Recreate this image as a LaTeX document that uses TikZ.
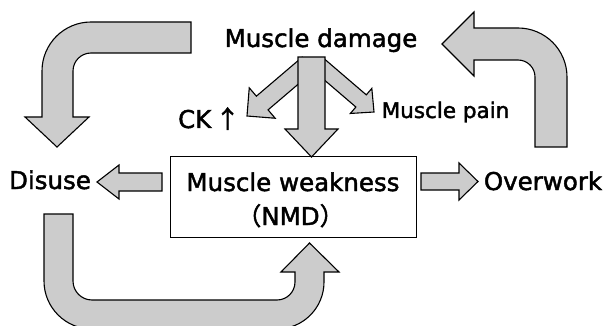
\documentclass[tikz,border=0pt]{standalone}
\usepackage{fontspec}
\setmainfont{DejaVu Sans}[FakeBold=1.8]
\newfontfamily\cjk{Noto Sans CJK JP}[FakeBold=1.8]
\usetikzlibrary{calc}
\tikzset{
  blk/.style={draw=black, line width=1.1pt, fill=black!20, line join=miter},
  lbl/.style={inner sep=0pt, font=\fontsize{24.5}{30}\selectfont},
  smalllbl/.style={inner sep=0pt, font=\fontsize{21.5}{26}\selectfont},
  boxnode/.style={draw=black, line width=1pt, minimum width=246pt, minimum height=80pt, inner sep=0pt}
}
\newcommand{\blockarrow}[5]{%
  \coordinate (tmpb) at ($(#2)!#5!(#1)$);
  \draw[blk] ($(#1)!#3!90:(#2)$) -- ($(tmpb)!#3!90:(#2)$) -- ($(tmpb)!#4!90:(#2)$) -- (#2)
    -- ($(tmpb)!#4!-90:(#2)$) -- ($(tmpb)!#3!-90:(#2)$) -- ($(#1)!#3!-90:(#2)$) -- cycle;}
\begin{document}
\begin{tikzpicture}[x=1pt, y=-1pt]
\useasboundingbox (0,0) rectangle (605,326);
\clip (0,0) rectangle (605,326);
\fill[white] (0,0) rectangle (605,326);

% labels
\node[lbl, anchor=base] (dmg) at (321,47) {Muscle damage};
\node[lbl, anchor=base west] (ck) at (178,128) {CK\hspace{4pt}{\cjk ↑}};
\node[smalllbl, anchor=base] (pain) at (445.5,118) {Muscle pain};
\node[lbl, anchor=base] (disuse) at (50,189) {Disuse};
\node[lbl, anchor=base] (overwork) at (543,190) {Overwork};
\node[boxnode] (weak) at (293,197) {};
\node[lbl, anchor=base] (weak1) at (293,191) {Muscle weakness};
\node[lbl, anchor=base] (weak2) at (290.5,225) {{\cjk （}NMD{\cjk ）}};

% arrow end points
\coordinate (ckA-s) at (308,64);   \coordinate (ckA-e) at (247,116);
\coordinate (pnA-s) at (318,64);   \coordinate (pnA-e) at (374,112);
\coordinate (dnA-s) at (311.5,57); \coordinate (dnA-e) at (311.5,157);
\coordinate (dsA-s) at (162,182);  \coordinate (dsA-e) at (97,182);
\coordinate (owA-s) at (421,181.5);\coordinate (owA-e) at (478,181.5);

% straight block arrows
\blockarrow{ckA-s}{ckA-e}{9pt}{20pt}{20pt}
\blockarrow{pnA-s}{pnA-e}{8pt}{16.5pt}{17pt}
\blockarrow{dnA-s}{dnA-e}{13.5pt}{26.5pt}{28pt}
\blockarrow{dsA-s}{dsA-e}{9pt}{17pt}{22pt}
\blockarrow{owA-s}{owA-e}{8.5pt}{18.5pt}{19pt}

% top-left curved arrow
\draw[blk] (191,22) -- (91,22) arc[start angle=90, end angle=180, radius=49pt]
  -- (42,117) -- (25,117) -- (57,147) -- (89,117) -- (73,117) -- (73,71)
  arc[start angle=180, end angle=90, radius=18pt] -- (191,53) -- cycle;

% top-right curved arrow
\draw[blk] (442,44) -- (474,12) -- (474,28) -- (518,28)
  arc[start angle=90, end angle=0, radius=49pt] -- (567,147) -- (535,147) -- (535,77)
  arc[start angle=0, end angle=90, radius=17pt] -- (474,60) -- (474,76) -- cycle;

% bottom curved arrow
\draw[blk] (44,214) -- (44,281) arc[start angle=180, end angle=270, radius=48pt]
  -- (277,329) arc[start angle=270, end angle=360, radius=47pt]
  -- (324,272) -- (339,272) -- (309.5,243) -- (281,272) -- (295,272) -- (295,282)
  arc[start angle=0, end angle=-90, radius=18pt] -- (92,300)
  arc[start angle=270, end angle=180, radius=19pt] -- (73,214) -- cycle;
\end{tikzpicture}
\end{document}
